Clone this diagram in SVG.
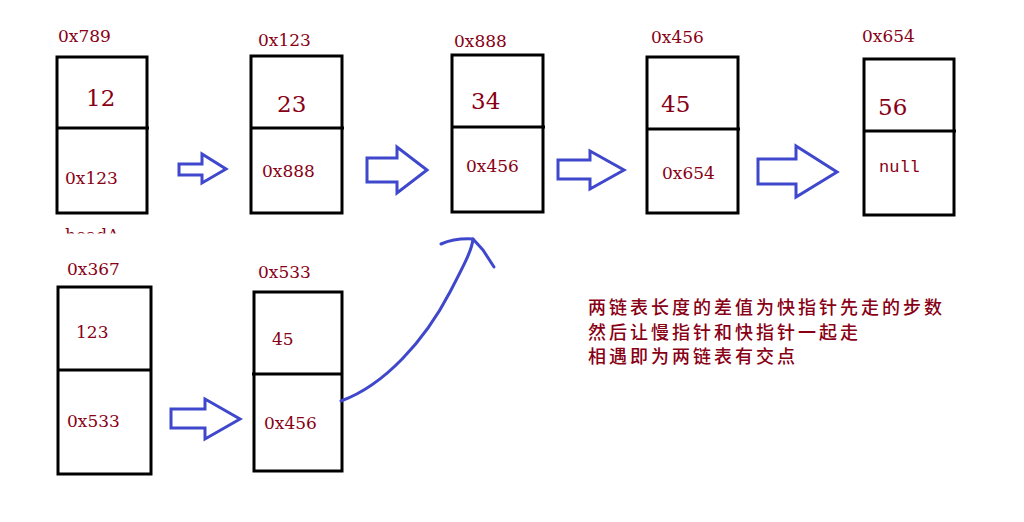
<svg xmlns="http://www.w3.org/2000/svg" width="1024" height="522" viewBox="0 0 1024 522">
<style>
.box{fill:none;stroke:#000;stroke-width:3}
.div{stroke:#000;stroke-width:3}
.t{font-family:"DejaVu Serif","Liberation Serif",serif;font-size:17px;fill:#880015}
.big{font-size:23px}
.mono{font-family:"Liberation Mono","DejaVu Sans Mono",monospace;font-size:17px;fill:#880015}
.arr{fill:none;stroke:#3f48cc;stroke-width:3;stroke-linejoin:miter}
.curve{fill:none;stroke:#3f48cc;stroke-width:3;stroke-linecap:round;stroke-linejoin:round}
.cn{font-family:"Noto Sans CJK SC",sans-serif;font-size:18px;font-weight:500;letter-spacing:3px;fill:#880015}
</style>
<defs>
<clipPath id="clipHead"><rect x="0" y="0" width="1024" height="233.5"/></clipPath>
</defs>
<rect width="1024" height="522" fill="#fff"/>
<g id="node-0x789">
<rect class="box" x="57" y="57" width="90" height="156"/>
<line class="div" x1="57" y1="128" x2="149" y2="128"/>
<text class="t" x="58" y="42">0x789</text>
<text class="t big" x="86" y="106">12</text>
<text class="t" x="65" y="184">0x123</text>
<text class="t" x="65" y="241" clip-path="url(#clipHead)">headA</text>
</g>
<g id="node-0x123">
<rect class="box" x="251" y="56" width="91" height="157"/>
<line class="div" x1="251" y1="128" x2="344" y2="128"/>
<text class="t" x="258" y="46">0x123</text>
<text class="t big" x="277" y="112">23</text>
<text class="t" x="262" y="177">0x888</text>
</g>
<g id="node-0x888">
<rect class="box" x="452" y="55" width="91" height="157"/>
<line class="div" x1="452" y1="127" x2="545" y2="127"/>
<text class="t" x="454" y="47">0x888</text>
<text class="t big" x="471" y="109">34</text>
<text class="t" x="466" y="172">0x456</text>
</g>
<g id="node-0x456">
<rect class="box" x="647" y="57" width="91" height="156"/>
<line class="div" x1="647" y1="129" x2="740" y2="129"/>
<text class="t" x="651" y="43">0x456</text>
<text class="t big" x="661" y="112">45</text>
<text class="t" x="662" y="179">0x654</text>
</g>
<g id="node-0x654">
<rect class="box" x="864" y="59" width="90" height="156"/>
<line class="div" x1="864" y1="131" x2="956" y2="131"/>
<text class="t" x="862" y="42">0x654</text>
<text class="t big" x="878" y="115">56</text>
<text class="mono" x="879" y="172">null</text>
</g>
<g id="node-0x367">
<rect class="box" x="58" y="287" width="93" height="187"/>
<line class="div" x1="58" y1="370" x2="151" y2="370"/>
<text class="t" x="67" y="275">0x367</text>
<text class="t" x="76" y="338">123</text>
<text class="t" x="67" y="427">0x533</text>
</g>
<g id="node-0x533">
<rect class="box" x="254" y="292" width="88" height="179"/>
<line class="div" x1="252" y1="374" x2="342" y2="374"/>
<text class="t" x="258" y="278">0x533</text>
<text class="t" x="272" y="345">45</text>
<text class="t" x="264" y="429">0x456</text>
</g>
<g id="connectors">
<polygon class="arr" points="179,164 202,164 202,154 226,169 202,183 202,175 179,175"/>
<polygon class="arr" points="367,158 397,158 397,147 427,170 397,193 397,182 367,182"/>
<polygon class="arr" points="558,160 590,160 590,151 624,170 590,189 590,179 558,179"/>
<polygon class="arr" points="758,159 796,159 796,146 837,172 796,197 796,184 758,184"/>
<polygon class="arr" points="171,409 205,409 205,399 240,419 205,439 205,428 171,428"/>
<path class="curve" d="M341,401 C385,385 425,340 450,292 C464,265 472,250 473,239"/>
<path class="curve" d="M441,244 Q455,238 473,239 L483,250 L494,267"/>
</g>
<g id="note">
<text class="cn" x="588" y="314">两链表长度的差值为快指针先走的步数</text>
<text class="cn" x="588" y="339">然后让慢指针和快指针一起走</text>
<text class="cn" x="588" y="363">相遇即为两链表有交点</text>
</g>
</svg>
